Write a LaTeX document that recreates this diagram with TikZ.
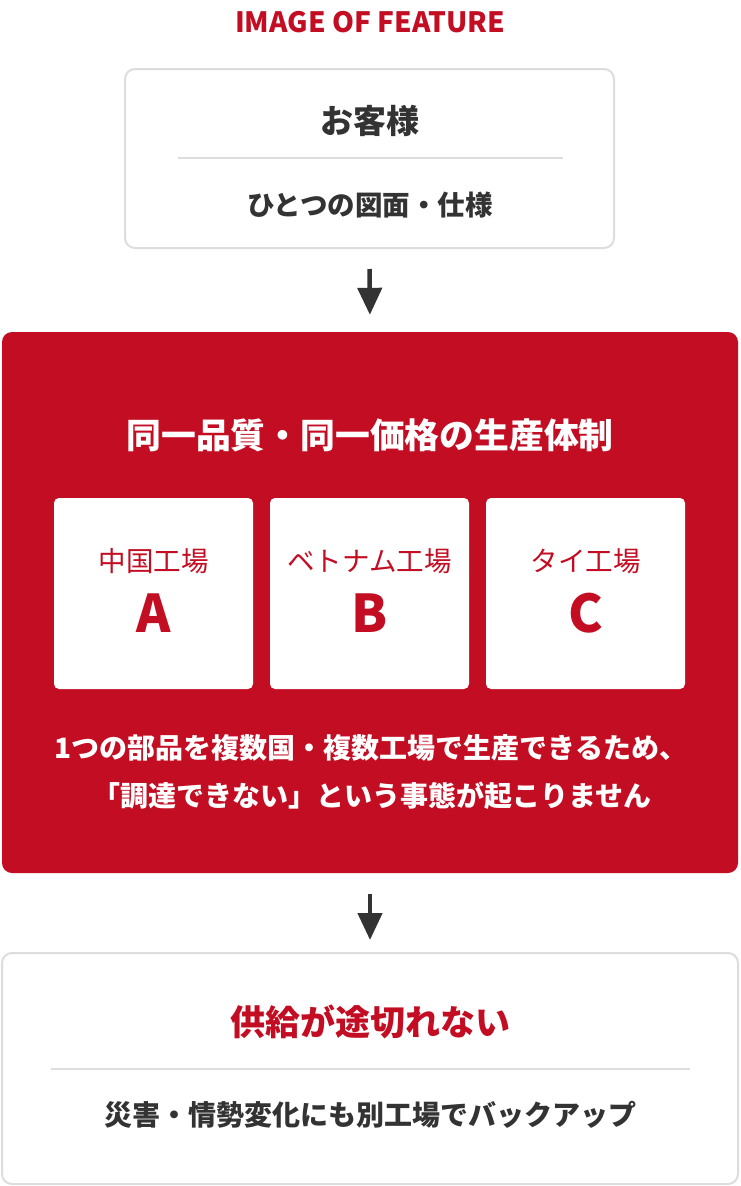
\documentclass[tikz,border=0pt]{standalone}
\usepackage{fontspec}
\setmainfont{Noto Sans CJK JP}
\usetikzlibrary{arrows.meta}
\definecolor{brandred}{HTML}{C30D23}
\definecolor{ink}{HTML}{333333}
\definecolor{rule}{HTML}{DDDDDD}
\tikzset{
  graybox/.style={draw=rule, line width=2pt, fill=white, rounded corners=10pt, inner sep=0pt},
  redpanel/.style={fill=brandred, rounded corners=10pt, inner sep=0pt},
  factory/.style={fill=white, rounded corners=5pt, inner sep=0pt, minimum width=199pt, minimum height=191pt},
  txt/.style={inner sep=0pt, anchor=center},
  sepline/.style={draw=rule, line width=2pt},
  flow/.style={draw=ink, line width=4.5pt, -{Triangle[width=24pt,length=27pt]}},
}
\begin{document}
\begin{tikzpicture}[x=1pt,y=-1pt]
\useasboundingbox (0,0) rectangle (740,1186);
% title
\node[txt, text=brandred, font=\fontsize{28}{30}\selectfont\bfseries] (ttl) at (370,22) {IMAGE OF FEATURE};
% customer box
\node[graybox, minimum width=489pt, minimum height=179pt] (cust) at (369.5,158.5) {};
\node[txt, text=ink, font=\fontsize{33}{36}\selectfont\bfseries] (custhead) at (370,121) {お客様};
\coordinate (s1a) at (178,158);
\coordinate (s1b) at (563,158);
\draw[sepline] (s1a) -- (s1b);
\node[txt, text=ink, font=\fontsize{27.5}{30}\selectfont\bfseries] (custbody) at (370,205) {ひとつの図面・仕様};
% production panel
\node[redpanel, minimum width=736pt, minimum height=541pt] (prod) at (370,602.5) {};
\node[txt, text=white, font=\fontsize{34.8}{38}\selectfont\bfseries] (prodhead) at (370,435) {同一品質・同一価格の生産体制};
\node[factory] (fa) at (153.5,593.5) {};
\node[factory] (fb) at (369.5,593.5) {};
\node[factory] (fc) at (585.5,593.5) {};
\node[txt, text=brandred, font=\fontsize{27.5}{30}\selectfont] (la) at (153.5,561) {中国工場};
\node[txt, text=brandred, font=\fontsize{27.5}{30}\selectfont] (lb) at (369.5,561) {ベトナム工場};
\node[txt, text=brandred, font=\fontsize{27.5}{30}\selectfont] (lc) at (585.5,561) {タイ工場};
\node[txt, text=brandred, font=\fontsize{52}{56}\selectfont\bfseries] (ka) at (153.5,613) {A};
\node[txt, text=brandred, font=\fontsize{52}{56}\selectfont\bfseries] (kb) at (369.5,613) {B};
\node[txt, text=brandred, font=\fontsize{52}{56}\selectfont\bfseries] (kc) at (585.5,613) {C};
\node[txt, text=white, font=\fontsize{28}{30}\selectfont\bfseries] (pb1) at (371,748) {1つの部品を複数国・複数工場で生産できるため、};
\node[txt, text=white, font=\fontsize{28}{30}\selectfont\bfseries] (pb2) at (372,796) {「調達できない」という事態が起こりません};
% result box
\node[graybox, minimum width=736pt, minimum height=231pt] (res) at (370,1068.5) {};
\node[txt, text=brandred, font=\fontsize{35}{38}\selectfont\bfseries] (reshead) at (370,1022) {供給が途切れない};
\coordinate (s2a) at (51,1069);
\coordinate (s2b) at (690,1069);
\draw[sepline] (s2a) -- (s2b);
\node[txt, text=ink, font=\fontsize{28}{30}\selectfont\bfseries] (resbody) at (370,1115) {災害・情勢変化にも別工場でバックアップ};
% connectors
\draw[flow, shorten <=20pt, shorten >=17pt] (cust.south) -- (prod.north);
\draw[flow, shorten <=21pt, shorten >=12pt] (prod.south) -- (res.north);
\end{tikzpicture}
\end{document}
